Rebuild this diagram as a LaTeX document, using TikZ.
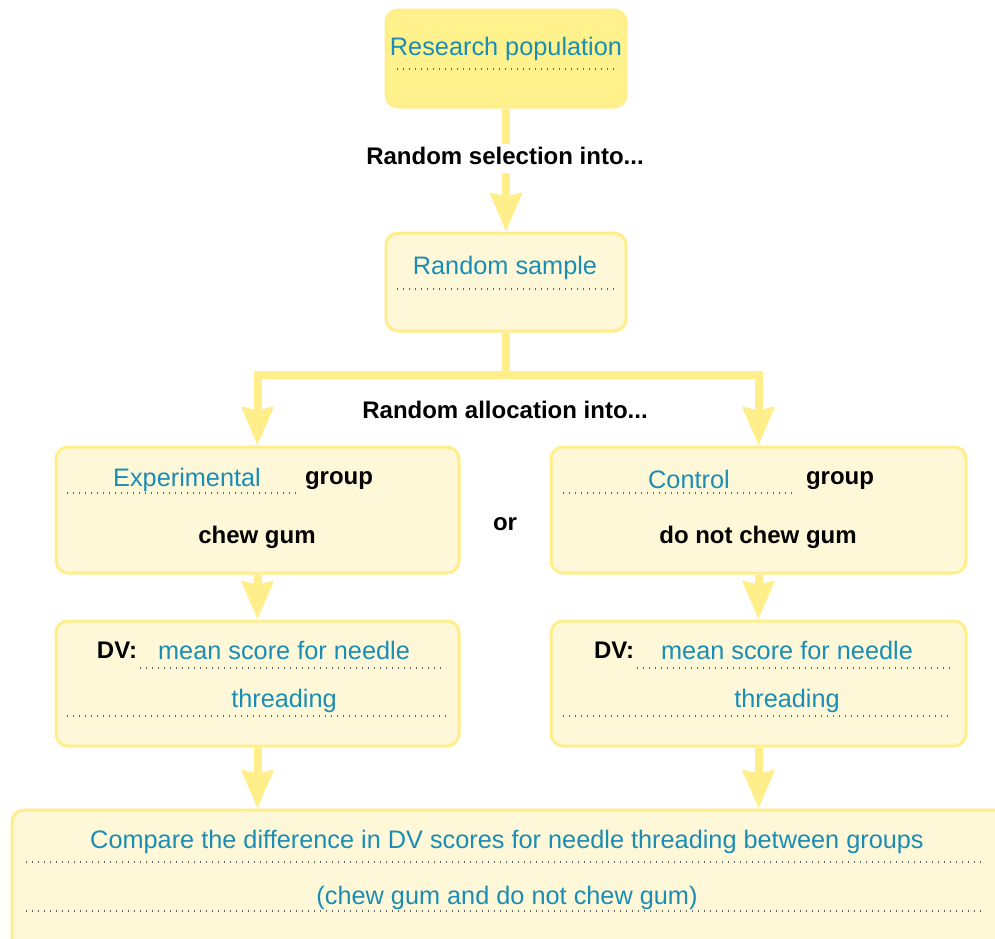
\documentclass[tikz,border=0pt]{standalone}
\usepackage{fontspec}
\setmainfont{Liberation Sans}
\usetikzlibrary{arrows.meta}
\definecolor{hlyellow}{HTML}{FFF18C}
\definecolor{paleyellow}{HTML}{FFF8D8}
\definecolor{edgeyellow}{HTML}{FFEE8A}
\definecolor{teal}{HTML}{1A8DB5}
\definecolor{dotgrey}{HTML}{666666}
\tikzset{
  boxbase/.style={draw=edgeyellow, line width=3pt, rounded corners=12pt, inner sep=0pt},
  strongbox/.style={boxbase, fill=hlyellow},
  palebox/.style={boxbase, fill=paleyellow},
  answer/.style={text=teal, font=\fontsize{25.3}{30}\selectfont, inner sep=0pt, text height=18pt, text depth=0pt},
  prompt/.style={text=black, font=\fontsize{24}{28}\selectfont\bfseries, inner sep=0pt, text height=17pt, text depth=0pt},
  dotline/.style={draw=dotgrey, line width=1.4pt, dash pattern=on 1.4pt off 4.6pt},
  flow/.style={draw=edgeyellow, line width=8pt, line join=miter,
    -{Stealth[length=38pt, width=31pt, inset=3pt]}},
  plain/.style={draw=edgeyellow, line width=8pt, line join=miter}
}
\begin{document}
\begin{tikzpicture}[x=1pt, y=-1pt]
\useasboundingbox (0,0) rectangle (995,938);

% boxes
\node[strongbox, minimum width=240pt, minimum height=97pt] (pop) at (506,58.5) {};
\node[palebox, minimum width=240pt, minimum height=98pt] (samp) at (506,282) {};
\node[palebox, minimum width=403pt, minimum height=126pt] (expg) at (257.5,510) {};
\node[palebox, minimum width=415pt, minimum height=126pt] (ctlg) at (758.5,510) {};
\node[palebox, minimum width=403pt, minimum height=125pt] (expdv) at (257.5,683.5) {};
\node[palebox, minimum width=415pt, minimum height=125pt] (ctldv) at (758.5,683.5) {};
\node[palebox, minimum width=1000pt, minimum height=170pt] (cmp) at (512,895) {};

% connectors
\draw[flow] (pop.south) -- (samp.north);
\node[prompt, fill=white, inner sep=4pt, text height=17pt, text depth=4pt] (sel) at (505,158) {Random selection into...};

\coordinate (split) at (506,375);
\draw[plain] (samp.south) -- (split);
\draw[flow] (split) -| (expg.north);
\draw[flow] (split) -| (ctlg.north);
\node[prompt] (alloc) at (505,410) {Random allocation into...};

\draw[flow] (expg.south) -- (expdv.north);
\draw[flow] (ctlg.south) -- (ctldv.north);
\draw[flow] (expdv.south) -- (expdv.south |- cmp.north);
\draw[flow] (ctldv.south) -- (ctldv.south |- cmp.north);

% research population
\node[answer] (popt) at (506,46) {Research population};
\draw[dotline] (397,69) -- (614,69);

% random sample
\node[answer] (sampt) at (505,265) {Random sample};
\draw[dotline] (397,289) -- (614,289);

% experimental group
\node[answer] (expt) at (187,477) {Experimental};
\draw[dotline] (67,493) -- (297,493);
\node[prompt] (expgrp) at (339,476) {group};
\node[prompt] (expiv) at (257,535) {chew gum};

% control group
\node[answer] (ctlt) at (689,479) {Control};
\draw[dotline] (563,493) -- (797,493);
\node[prompt] (ctlgrp) at (840,476) {group};
\node[prompt] (ctliv) at (758,535) {do not chew gum};

\node[prompt] (ort) at (505,522) {or};

% dependent variable, experimental
\node[prompt] (expdvl) at (117,650) {DV:};
\node[answer] (expdv1) at (284,650) {mean score for needle};
\draw[dotline] (140,668) -- (446,668);
\node[answer] (expdv2) at (284,698) {threading};
\draw[dotline] (67,716) -- (446,716);

% dependent variable, control
\node[prompt] (ctldvl) at (614,650) {DV:};
\node[answer] (ctldv1) at (787,650) {mean score for needle};
\draw[dotline] (637,668) -- (952,668);
\node[answer] (ctldv2) at (787,698) {threading};
\draw[dotline] (563,716) -- (952,716);

% comparison
\node[answer] (cmp1) at (507,839) {Compare the difference in DV scores for needle threading between groups};
\draw[dotline] (26,862) -- (985,862);
\node[answer] (cmp2) at (507,895) {(chew gum and do not chew gum)};
\draw[dotline] (26,911) -- (985,911);
\end{tikzpicture}
\end{document}
